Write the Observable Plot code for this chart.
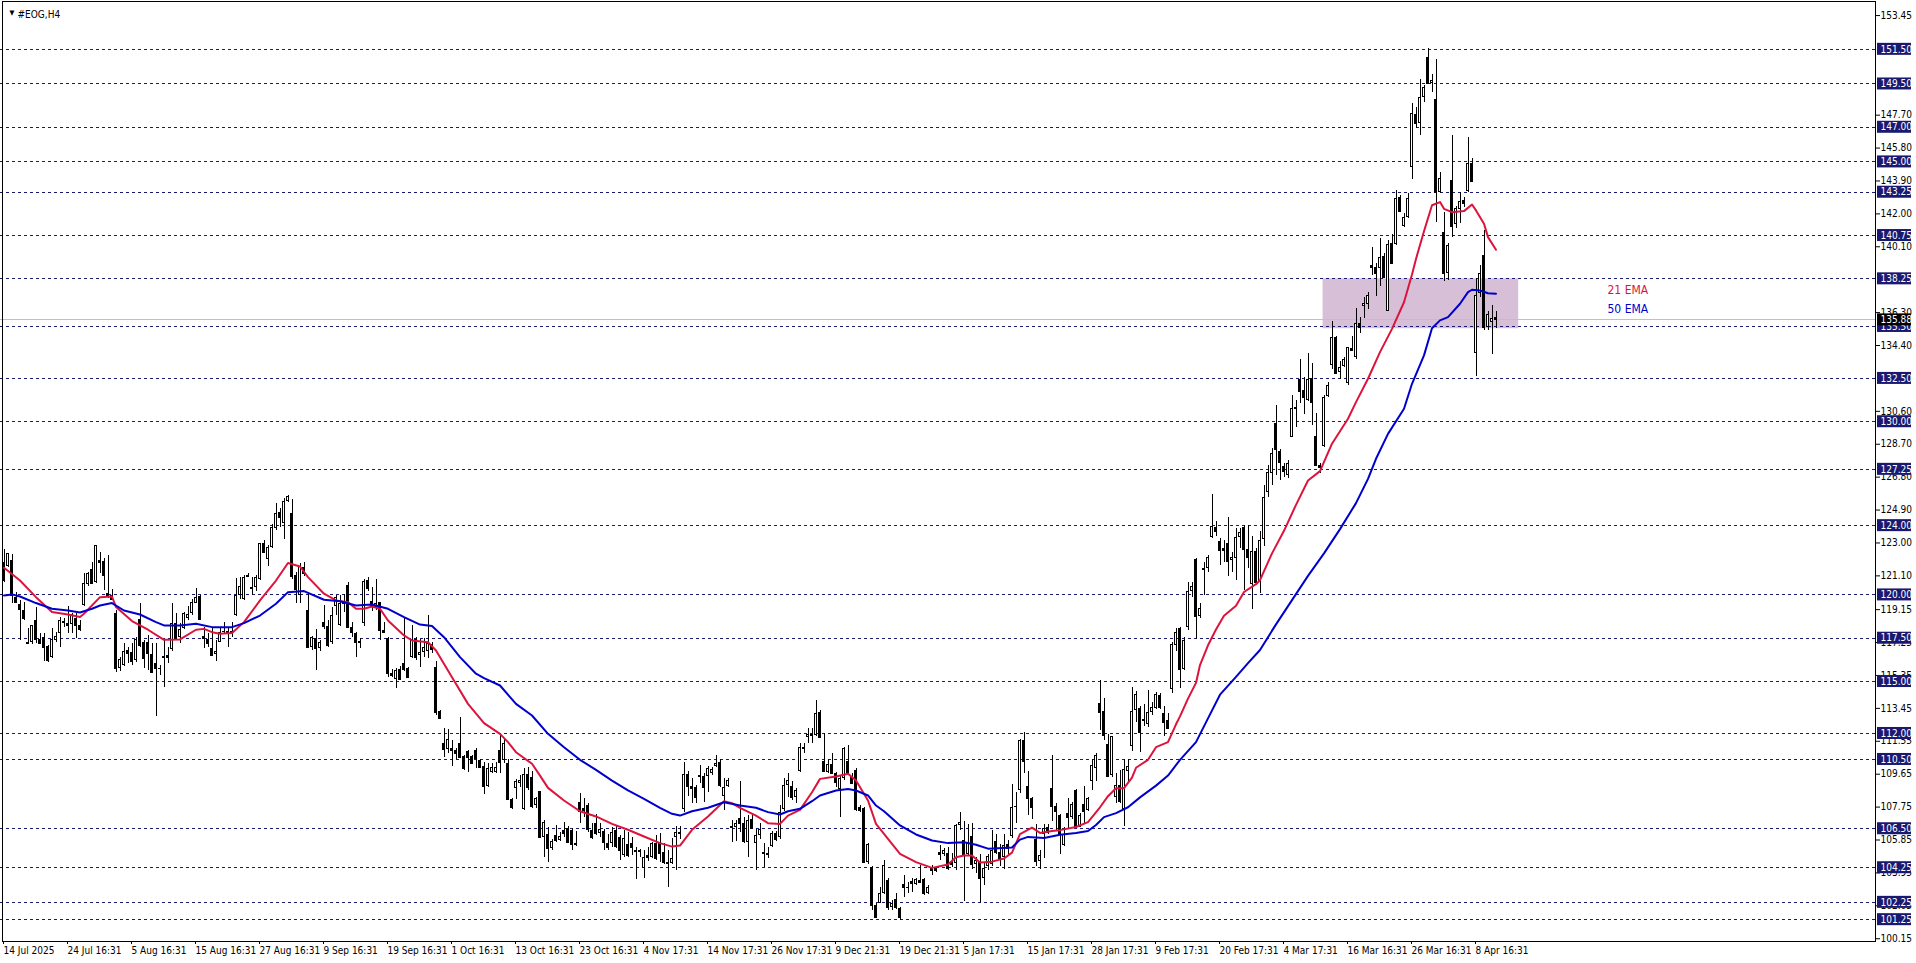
<!DOCTYPE html>
<html><head><meta charset="utf-8">
<script src="https://cdn.jsdelivr.net/npm/d3@7"></script>
<script src="https://cdn.jsdelivr.net/npm/@observablehq/plot@0.6"></script>
<style>
html,body{margin:0;padding:0;background:#fff;overflow:hidden}
svg{display:block}
</style></head><body><div id="chart"></div>
<script>
// ---- data ----
const symbolTitle = "#EOG,H4";
const xLabels = ["14 Jul 2025","24 Jul 16:31","5 Aug 16:31","15 Aug 16:31","27 Aug 16:31","9 Sep 16:31","19 Sep 16:31","1 Oct 16:31","13 Oct 16:31","23 Oct 16:31","4 Nov 17:31","14 Nov 17:31","26 Nov 17:31","9 Dec 21:31","19 Dec 21:31","5 Jan 17:31","15 Jan 17:31","28 Jan 17:31","9 Feb 17:31","20 Feb 17:31","4 Mar 17:31","16 Mar 16:31","26 Mar 16:31","8 Apr 16:31"];
const xLabelBars = [0,16,32,48,64,80,96,112,128,144,160,176,192,208,224,240,256,272,288,304,320,336,352,368];
const yTicks = [153.45,147.70,145.80,143.90,142.00,140.10,136.30,134.40,130.60,128.70,126.80,124.90,123.00,121.10,119.15,117.25,115.35,113.45,111.55,109.65,107.75,105.85,103.95,102.05,100.15];
const levels = [151.50,149.50,147.00,145.00,143.25,140.75,138.25,135.50,132.50,130.00,127.25,124.00,120.00,117.50,115.00,112.00,110.50,106.50,104.25,102.25,101.25];
const lastPrice = 135.88;
const zoneBars = [329.9, 378.8];
const zonePrices = [135.37, 138.25];
const emaLabelTexts = ["21 EMA","50 EMA"];
const emaLabelBars = [401, 401];
const emaLabelPrices = [137.58, 136.48];

const opens = [
121.89,121.64,121.99,119.87,119.45,119.10,117.25,117.27,118.52,117.41,
117.52,117.02,116.41,117.37,117.76,118.37,118.33,118.29,118.62,118.24,
119.39,120.60,121.45,120.72,121.99,121.93,120.10,119.97,118.91,115.73,
115.93,116.79,116.70,116.21,118.56,117.27,117.27,116.56,116.02,115.77,
116.47,116.49,116.83,118.33,117.56,118.04,118.62,118.91,119.53,119.93,
117.62,117.43,116.89,116.56,117.27,117.87,117.87,117.76,118.81,119.97,
119.72,121.03,120.30,120.45,120.87,122.95,122.03,122.72,123.82,124.78,
124.11,125.40,124.68,121.12,119.97,121.60,119.10,116.99,117.47,116.89,
118.43,118.18,117.24,119.33,118.24,119.45,120.55,118.14,117.76,117.18,
118.37,120.83,119.64,119.30,119.55,117.93,117.47,115.45,115.10,115.68,
116.06,115.73,116.37,117.41,116.50,116.66,116.76,117.14,115.83,113.29,
111.44,111.06,111.11,111.02,111.40,110.67,110.98,110.67,111.02,110.44,
110.10,108.94,109.77,109.77,111.02,110.44,110.29,108.17,108.80,109.13,
107.59,109.63,109.48,107.84,108.67,106.01,106.17,105.34,106.11,105.82,
106.40,106.49,106.40,105.53,108.03,107.65,107.84,106.40,106.82,106.20,
106.36,105.67,105.67,106.40,106.01,104.95,105.59,105.63,105.24,105.22,
104.18,104.95,104.82,105.67,105.67,105.15,104.57,104.47,105.97,106.30,
107.59,109.63,108.94,108.90,109.57,109.52,109.52,109.67,110.09,110.34,
108.36,108.94,106.63,106.59,107.07,106.78,105.72,107.01,105.67,106.11,
105.15,105.05,105.47,106.24,105.97,107.59,108.99,108.94,108.32,109.82,
111.06,111.75,111.83,111.88,113.23,110.38,109.77,110.21,109.67,108.75,
109.38,110.40,109.52,109.86,107.75,107.65,104.57,104.24,102.07,102.20,
102.74,103.51,101.97,102.39,101.87,103.28,103.10,103.47,103.28,103.51,
103.55,102.78,104.18,104.18,105.15,105.01,105.09,104.57,104.47,106.69,
105.80,105.01,106.03,104.44,104.60,103.60,104.32,104.44,105.74,105.12,
104.82,105.58,106.03,107.70,108.70,111.57,108.93,108.24,105.87,104.60,
106.15,106.60,108.84,107.79,107.29,105.51,107.40,107.17,108.70,106.60,
107.92,107.56,109.22,109.98,113.72,113.26,111.34,109.57,108.31,108.99,
107.63,109.79,111.27,113.33,113.44,112.71,112.53,113.21,113.44,114.17,
113.17,112.76,114.54,117.09,118.05,115.72,118.12,120.17,122.06,118.73,
121.42,121.54,123.29,123.88,123.06,122.68,122.97,121.99,122.11,123.29,
123.88,122.61,120.62,122.52,120.78,123.20,125.90,127.03,129.88,128.30,
127.40,126.90,129.11,130.80,132.42,131.80,131.23,132.48,129.15,127.47,
128.57,131.46,133.25,134.85,132.86,133.19,132.19,134.21,133.73,135.65,
136.65,136.77,139.02,138.93,138.83,139.54,136.39,140.27,140.23,142.93,
141.27,141.77,144.66,147.74,147.24,148.70,151.01,149.55,148.59,143.26,
140.95,138.58,143.93,141.39,142.24,142.78,143.31,144.93,133.96,137.39,
139.60,135.42,135.75,136.04];
const highs = [
122.61,122.41,122.32,120.16,119.68,119.58,118.04,118.24,119.30,117.76,
117.76,117.08,118.04,117.85,118.72,118.62,119.33,118.95,118.91,118.52,
121.22,121.32,121.89,122.84,122.43,122.09,122.28,120.30,119.10,116.37,
117.18,116.99,117.22,117.56,119.53,117.37,117.66,117.18,117.18,115.93,
117.43,116.99,119.53,118.91,118.37,119.01,119.33,119.74,120.35,119.97,
118.14,117.76,118.14,117.37,118.14,118.43,118.14,118.43,120.93,121.03,
121.12,121.22,121.03,121.12,122.99,123.15,122.86,124.07,125.30,124.97,
125.55,125.74,125.51,121.32,121.80,121.89,120.16,117.60,117.99,117.37,
119.39,118.52,119.30,119.97,119.97,120.03,120.74,118.43,117.85,117.47,
120.87,121.03,120.45,120.87,119.58,118.43,117.56,115.68,115.73,115.87,
118.62,115.83,118.24,117.56,117.41,117.47,118.81,117.27,116.18,113.33,
112.27,112.21,111.59,111.11,112.90,110.73,111.02,110.73,111.11,110.48,
110.30,110.29,110.29,110.34,112.02,111.69,110.48,108.23,109.32,109.57,
109.96,110.06,109.82,108.32,108.67,106.98,106.59,105.86,106.69,106.30,
106.88,106.63,106.49,106.36,108.55,108.23,107.94,106.78,107.32,106.78,
106.44,106.17,106.59,106.69,106.11,106.40,106.30,106.01,105.44,105.28,
105.24,105.40,105.72,106.11,106.24,105.67,105.24,105.92,106.63,106.63,
110.34,109.82,109.38,108.99,110.15,109.67,110.09,110.06,110.73,110.48,
109.38,109.38,106.98,106.98,109.25,107.17,107.26,107.32,106.44,106.78,
105.67,105.44,106.36,106.36,107.84,109.38,109.71,109.25,108.80,111.40,
111.44,112.27,112.27,113.91,113.33,111.98,110.48,110.86,109.77,109.57,
111.21,111.31,109.67,109.96,107.84,107.75,105.67,104.32,102.20,103.13,
104.67,103.61,102.36,102.74,101.97,103.80,103.42,103.61,103.61,104.38,
103.61,103.22,104.38,104.30,105.53,105.34,105.44,105.05,106.74,107.46,
106.94,106.72,106.78,104.82,105.01,104.50,105.00,106.42,106.15,105.58,
106.15,105.80,109.07,108.61,111.66,112.07,109.79,108.31,106.72,105.23,
106.72,106.72,110.71,107.97,107.33,106.56,108.24,108.02,108.77,107.40,
108.93,108.31,110.48,110.82,115.04,114.01,111.96,111.85,109.68,109.84,
110.48,110.48,114.63,114.40,113.56,113.67,114.47,113.78,114.35,114.31,
113.56,113.17,117.27,118.05,118.12,117.55,120.74,120.74,122.11,119.48,
121.88,122.29,125.80,124.25,123.25,123.13,124.48,122.45,123.82,123.82,
123.98,123.98,123.36,122.68,123.66,126.30,127.47,128.44,130.94,128.38,
127.60,127.76,131.52,131.23,133.58,132.57,133.96,133.35,130.50,127.57,
131.52,132.29,135.81,134.92,133.50,133.69,134.31,134.92,136.52,136.00,
137.19,137.48,140.04,139.16,140.56,139.70,140.46,140.81,143.35,143.06,
142.04,143.16,148.36,148.12,149.74,149.41,151.53,150.05,150.90,144.41,
142.10,140.27,146.53,142.43,143.26,142.97,146.43,145.18,138.25,139.02,
141.04,136.39,136.71,136.39];
const lows = [
120.74,121.60,119.49,119.49,117.37,118.52,117.14,117.14,117.18,117.14,
116.18,116.12,116.31,117.27,116.95,118.14,117.76,117.79,117.47,117.91,
119.35,120.51,120.64,120.68,121.22,120.26,119.78,119.68,115.54,115.60,
115.87,116.02,115.93,116.12,116.99,115.73,115.64,115.45,112.98,115.35,
114.68,116.06,116.76,117.37,117.18,117.99,118.52,118.81,119.49,118.52,
116.89,116.99,116.45,116.18,117.25,117.76,116.95,117.56,118.77,119.72,
119.68,120.99,119.97,120.22,120.83,122.38,121.64,122.68,123.72,123.92,
123.18,125.36,120.87,119.49,119.49,121.07,116.89,116.79,115.64,116.76,
117.99,116.99,117.14,118.81,118.20,119.01,118.04,117.56,116.41,116.89,
118.18,120.22,119.06,119.10,117.37,117.79,115.21,115.21,114.58,115.06,
115.60,115.16,116.31,116.21,115.79,116.41,116.31,116.60,113.04,112.79,
110.63,110.83,110.09,110.48,110.59,109.86,109.77,110.21,109.96,110.02,
108.50,108.90,109.67,109.67,109.71,110.29,108.13,107.59,108.17,108.86,
107.55,108.71,107.65,107.65,105.92,104.82,104.57,105.24,105.72,105.78,
105.97,105.63,105.24,105.47,106.82,107.17,106.30,105.86,106.11,106.01,
105.24,105.24,105.44,105.34,104.67,104.86,104.86,104.95,103.55,104.86,
103.61,104.63,104.76,104.67,104.57,104.43,103.09,104.43,104.09,105.86,
107.46,108.36,107.98,107.98,109.09,108.03,108.61,109.57,110.06,108.90,
107.55,108.86,105.72,105.78,106.30,105.67,104.82,106.44,104.09,105.86,
104.24,104.76,105.40,105.78,105.86,107.51,108.28,108.13,107.98,109.77,
110.86,111.44,111.40,111.83,111.69,109.77,109.67,109.67,108.90,107.17,
109.28,109.57,109.05,107.51,107.46,104.51,104.43,101.78,101.30,102.16,
102.70,101.78,101.78,101.82,101.20,102.55,102.74,102.84,103.22,103.32,
102.64,102.70,103.80,104.00,104.67,104.90,104.09,104.28,104.09,106.40,
102.30,104.89,104.14,103.90,102.20,103.20,104.10,104.32,105.01,104.32,
104.14,105.01,105.92,106.83,108.54,109.68,107.29,107.01,104.32,104.14,
104.78,106.15,106.94,106.37,105.01,105.46,106.49,107.06,106.49,106.56,
106.83,107.47,108.70,109.22,112.19,111.57,109.45,109.45,107.97,107.97,
106.65,109.22,110.98,112.64,110.89,112.42,112.35,113.03,113.40,113.40,
111.80,112.26,114.31,116.75,114.58,115.61,117.96,119.83,117.43,118.64,
119.94,121.31,123.25,123.36,121.70,121.88,121.08,121.31,120.85,122.68,
120.28,121.54,119.14,120.56,120.10,122.80,125.60,126.30,126.90,126.60,
126.80,126.70,129.07,129.69,131.07,130.42,131.19,129.78,127.42,127.00,
128.53,131.42,133.00,132.77,132.42,133.11,132.09,134.08,133.58,135.11,
135.94,136.46,138.44,137.23,137.81,138.25,136.39,139.12,140.18,142.10,
141.20,141.72,143.97,146.91,146.53,148.45,149.47,149.03,141.52,143.20,
138.12,138.16,140.66,141.14,141.43,142.39,143.26,143.83,132.61,137.19,
135.27,135.27,133.88,135.37];
const closes = [
120.83,122.37,119.97,119.58,119.14,118.62,117.22,118.24,117.41,117.22,
116.99,116.21,117.41,117.60,118.52,118.47,118.24,118.87,118.24,117.99,
120.64,121.22,120.68,122.84,121.87,121.10,119.91,119.72,115.73,116.25,
116.73,116.60,116.18,117.41,117.08,116.31,116.60,115.54,115.73,115.73,
116.41,116.37,118.37,117.47,117.99,118.95,118.87,119.55,119.84,118.58,
117.47,117.22,116.50,116.76,117.85,117.91,117.81,117.91,119.97,120.51,
121.03,121.14,120.45,121.03,122.95,122.47,122.72,123.92,124.72,124.49,
125.40,125.69,121.07,120.30,121.64,121.22,116.99,117.52,116.89,117.27,
118.18,117.08,118.81,119.87,119.49,119.58,118.14,117.85,117.27,117.31,
120.78,120.35,119.33,119.53,117.95,117.85,115.45,115.35,115.64,115.10,
115.68,115.21,117.41,116.41,116.70,116.95,117.22,116.83,113.23,112.85,
111.06,111.63,111.02,110.83,110.63,109.96,110.63,110.25,110.54,110.06,
108.95,109.96,110.06,110.06,110.34,111.44,108.17,107.71,109.25,109.28,
109.63,108.90,107.78,108.23,106.01,106.88,105.34,105.78,105.82,106.05,
106.21,105.72,105.59,105.67,107.51,107.55,106.44,106.01,106.20,106.44,
105.72,105.40,106.30,105.47,105.24,105.92,104.95,105.44,105.18,105.18,
104.86,104.86,105.63,104.76,105.09,104.57,104.47,104.76,106.30,106.20,
109.63,108.94,108.84,108.28,109.52,108.86,109.96,109.90,110.29,108.99,
108.90,109.28,106.55,106.78,106.78,105.78,106.98,106.49,106.11,106.44,
105.05,105.03,106.24,105.86,107.46,108.99,109.28,108.28,108.71,111.17,
111.17,111.94,111.94,113.17,111.79,109.82,110.21,109.71,109.19,109.38,
111.11,109.67,109.13,107.59,107.55,104.57,105.59,102.07,101.39,102.78,
104.38,101.97,102.20,101.93,101.35,103.13,103.13,103.36,103.55,103.42,
102.74,103.13,104.09,104.09,105.01,105.24,104.18,104.43,106.69,106.88,
105.01,105.69,104.44,104.66,103.60,104.20,104.89,105.23,105.12,104.78,
105.51,105.35,107.74,107.79,111.57,110.36,108.24,107.74,104.60,104.96,
106.49,106.26,107.79,107.51,106.15,106.19,107.17,107.92,106.56,107.24,
107.51,108.24,110.14,110.75,113.21,111.89,109.52,111.80,108.99,108.08,
109.91,110.07,113.26,114.24,112.07,112.80,113.21,113.49,114.24,113.49,
112.64,112.30,117.13,117.82,115.72,117.36,120.17,120.46,118.73,119.19,
121.54,122.15,123.93,123.66,122.56,122.56,121.92,122.15,123.29,123.59,
122.61,122.15,122.52,120.69,123.13,125.60,127.09,128.15,128.38,127.67,
127.10,127.61,130.75,130.75,131.77,131.38,132.42,131.13,127.47,127.38,
131.42,132.09,134.85,132.77,133.11,133.58,134.27,134.11,135.69,135.42,
136.81,137.29,138.93,138.54,139.50,138.35,140.23,139.16,142.87,142.16,
141.77,142.87,147.78,147.20,148.70,149.28,149.51,149.70,143.26,144.03,
138.58,140.18,141.27,142.29,142.74,142.62,144.93,143.89,137.29,138.58,
135.42,136.19,135.94,135.88];

const ema21Bars = [0,4,8,12,16,19,20,24,27,28,32,36,40,44,48,50,52,54,57,60,64,68,71,74,76,80,83,86,88,90,92,94,96,100,102,106,108,112,116,120,124,126,128,132,134,136,140,144,148,152,156,160,164,167,169,172,176,180,182,184,188,191,194,196,199,202,204,208,211,213,216,218,220,224,228,232,236,238,240,242,244,247,250,252,254,257,259,262,264,268,271,274,276,278,280,282,283,286,288,291,293,294,296,298,299,301,303,305,308,310,313,314,317,320,323,326,329,332,336,338,341,344,347,350,352,353,355,357,359,360,362,365,367,368,370,371,373];
const ema21Vals = [121.57,120.83,119.87,119.01,118.87,118.72,118.91,119.87,119.91,119.30,118.49,117.99,117.41,117.43,117.99,118.04,117.85,117.76,117.80,118.43,119.68,120.83,121.84,121.64,121.03,120.07,119.68,119.58,119.20,119.20,119.33,119.20,118.52,117.66,117.37,117.27,116.79,115.25,113.71,112.60,111.98,111.50,110.92,110.25,109.57,108.86,108.13,107.51,107.21,106.78,106.44,106.05,105.67,105.47,105.53,106.44,107.21,108.09,107.98,107.71,107.26,106.82,106.78,107.26,107.59,108.61,109.38,109.52,109.67,109.28,108.13,106.78,106.20,105.05,104.57,104.24,104.43,104.86,104.95,104.96,104.55,104.60,104.78,105.12,106.19,106.56,106.26,106.37,106.42,106.60,106.88,107.74,108.38,108.84,108.84,109.45,110.02,110.48,111.21,111.50,112.53,112.99,114.01,114.92,115.95,117.09,118.00,118.80,119.37,120.17,120.62,120.85,122.40,123.70,125.20,126.61,127.15,128.73,130.17,131.13,132.48,134.02,135.36,136.90,138.50,139.40,141.00,142.50,142.68,142.29,142.10,142.16,142.54,142.20,141.43,140.66,139.93];
const ema50Bars = [0,2,4,8,12,16,19,22,24,27,30,34,38,40,44,48,52,57,60,64,68,71,75,80,84,88,92,96,100,104,107,110,114,118,120,124,128,132,136,140,144,148,152,156,160,164,167,169,172,176,180,184,188,191,194,196,199,202,204,208,211,213,216,218,220,224,228,232,236,240,243,246,252,254,256,260,264,268,271,273,275,278,281,284,288,291,294,298,301,304,308,311,314,318,322,326,330,334,338,341,343,346,350,352,355,357,359,361,364,366,367,369,371,373];
const ema50Vals = [119.97,120.03,119.91,119.53,119.20,119.10,118.99,119.20,119.39,119.53,119.10,118.87,118.43,118.24,118.24,118.33,118.14,118.14,118.37,118.81,119.49,120.16,120.22,119.72,119.64,119.39,119.45,119.20,118.72,118.29,118.20,117.56,116.41,115.45,115.20,114.77,113.71,113.04,111.98,111.21,110.48,109.90,109.28,108.71,108.23,107.71,107.36,107.26,107.51,107.71,108.03,107.84,107.71,107.46,107.32,107.51,107.65,108.09,108.42,108.71,108.80,108.71,108.42,107.84,107.51,106.69,106.17,105.82,105.67,105.72,105.58,105.35,105.42,105.87,106.03,105.96,106.15,106.26,106.37,106.72,107.17,107.40,107.74,108.31,108.99,109.57,110.48,111.50,112.87,114.24,115.27,116.06,116.82,118.30,119.70,121.10,122.40,123.80,125.30,126.70,127.86,129.30,130.75,132.19,133.83,135.40,135.85,136.04,136.81,137.48,137.62,137.58,137.42,137.39];

// ---- build ----
const bars = opens.map((o, i) => ({i, o, h: highs[i], l: lows[i], c: closes[i]}));
const bulls = bars.filter(d => d.c > d.o);
const ema21 = ema21Bars.map((b, k) => ({i: b, v: ema21Vals[k]}));
const ema50 = ema50Bars.map((b, k) => ({i: b, v: ema50Vals[k]}));
const zone = [{x1: zoneBars[0], x2: zoneBars[1], y1: zonePrices[0], y2: zonePrices[1]}];
const fmt = d => d.toFixed(2);
const NAVY = "#191970";
const FONT = "Tahoma, 'DejaVu Sans Condensed', 'Liberation Sans', sans-serif";
const crisp = "crispEdges";

const chart = Plot.plot({
  width: 1916, height: 963,
  marginLeft: 0, marginRight: 41, marginTop: 0, marginBottom: 22,
  x: {type: "linear", domain: [-0.75, 468]},
  y: {type: "linear", domain: [99.99, 154.32]},
  style: {fontFamily: FONT, fontSize: "10px", background: "white", color: "black", overflow: "visible"},
  marks: [
    Plot.rect(zone, {x1: "x1", x2: "x2", y1: "y1", y2: "y2", fill: "#d8bfd8"}),
    Plot.ruleY(levels, {stroke: NAVY, strokeDasharray: "3,3", shapeRendering: crisp}),
    Plot.ruleY([lastPrice], {stroke: "#c0c0c0", shapeRendering: crisp}),
    Plot.ruleX(bars, {x: d => d.i + 0.125, y1: "l", y2: "h", stroke: "black", shapeRendering: crisp}),
    Plot.rect(bars, {x1: d => d.i - 0.25, x2: d => d.i + 0.5, y1: "o", y2: "c", fill: "black", shapeRendering: crisp}),
    Plot.ruleY(bars, {x1: d => d.i - 0.25, x2: d => d.i + 0.5, y: "c", stroke: "black", shapeRendering: crisp}),
    Plot.rect(bulls, {x1: d => d.i - 0.25, x2: d => d.i + 0.5, y1: "o", y2: "c", fill: "white", inset: 1, shapeRendering: crisp}),
    Plot.line(ema21, {x: d => d.i + 0.125, y: "v", stroke: "#dc143c", strokeWidth: 2}),
    Plot.line(ema50, {x: d => d.i + 0.125, y: "v", stroke: "#0000cd", strokeWidth: 2}),
    Plot.axisX(xLabelBars, {tickFormat: d => xLabels[xLabelBars.indexOf(d)], textAnchor: "start", tickSize: 3, tickPadding: 2, label: null, fontSize: 10, fill: "black", stroke: "black"}),
    Plot.axisY(yTicks, {anchor: "right", tickSize: 4, tickPadding: 1, tickFormat: fmt, label: null, fontSize: 10, fill: "black", stroke: "black"}),
    Plot.frame({stroke: "black", insetLeft: 2, insetTop: 1, shapeRendering: crisp}),
    Plot.rect(levels, {y1: d => d, y2: d => d, insetTop: -6, insetBottom: -6, insetLeft: 1877, insetRight: -36, fill: NAVY}),
    Plot.text(levels, {y: d => d, text: fmt, frameAnchor: "right", dx: 5, textAnchor: "start", fill: "white", fontSize: 10}),
    Plot.rect([lastPrice], {y1: d => d, y2: d => d, insetTop: -6, insetBottom: -6, insetLeft: 1877, insetRight: -36, fill: "black"}),
    Plot.text([lastPrice], {y: d => d, text: fmt, frameAnchor: "right", dx: 5, textAnchor: "start", fill: "white", fontSize: 10}),
    Plot.text([emaLabelTexts[0]], {x: () => emaLabelBars[0], y: () => emaLabelPrices[0], textAnchor: "start", fill: "#dc143c", fontSize: 12}),
    Plot.text([emaLabelTexts[1]], {x: () => emaLabelBars[1], y: () => emaLabelPrices[1], textAnchor: "start", fill: "#0000cd", fontSize: 12}),
    Plot.text(["\u25BC"], {frameAnchor: "top-left", dx: 9, dy: 10, fontSize: 7, fill: "black"}),
    Plot.text([symbolTitle], {frameAnchor: "top-left", dx: 17, dy: 10, textAnchor: "start", fontSize: 10, fill: "black"})
  ]
});
document.getElementById("chart").append(chart);
</script>
</body></html>
